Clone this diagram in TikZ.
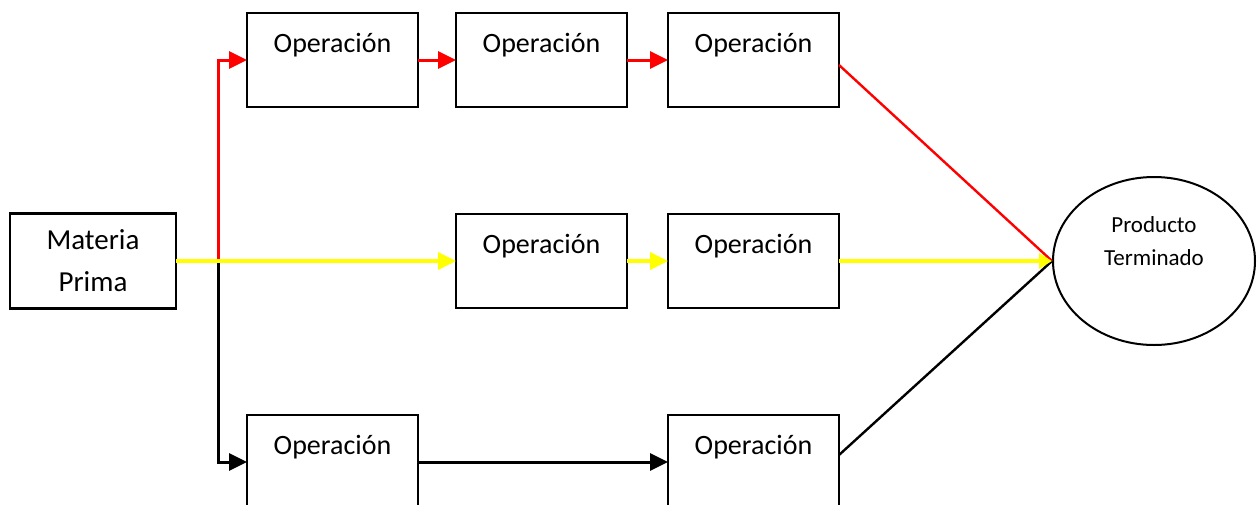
\documentclass[tikz,border=0pt]{standalone}
\usepackage{fontspec}
\setmainfont{Carlito}
\usepackage{xcolor}
\usepackage{tikz}
\usetikzlibrary{positioning, arrows.meta, shapes.geometric}

\definecolor{flowred}{RGB}{255,0,0}
\definecolor{flowyellow}{RGB}{255,255,0}

\begin{document}
\begin{tikzpicture}[x=1pt, y=-1pt,
    op/.style={draw, rectangle, line width=2.2pt, inner sep=0pt, outer sep=0pt, minimum width=171pt,
        text height=39pt, text depth=55pt, font=\fontsize{28}{34}\selectfont},
    redline/.style={draw=flowred, line width=3pt},
    yellowline/.style={draw=flowyellow, line width=3.6pt},
    blackline/.style={draw=black, line width=3pt},
    tip/.style={-{Triangle[length=18pt, width=17pt]}}]
    \useasboundingbox (0,0) rectangle (1259,504);

    \node[draw, rectangle, line width=2.2pt, outer sep=0pt, minimum width=166pt, minimum height=95pt,
        align=center, font=\fontsize{29}{42}\selectfont] (mat) at (93,261) {Materia\\Prima};

    % upper branch
    \node[op] (op1) at (332.5,60) {Operación};
    \node[op, right=38pt of op1] (op2) {Operación};
    \node[op, right=41pt of op2] (op3) {Operación};

    % middle branch
    \node[op, below=107pt of op2] (op4) {Operación};
    \node[op, below=107pt of op3] (op5) {Operación};

    % lower branch
    \node[op, below=107pt of op4.south -| op1] (op6) {Operación};
    \node[op, below=107pt of op5] (op7) {Operación};

    \node[draw, ellipse, line width=2pt, minimum width=202pt, minimum height=168pt] (prod) at (1154,261) {};
    \node[align=center, font=\fontsize{23}{33}\selectfont] (prodtext) at ([yshift=20pt]prod.center) {Producto\\Terminado};

    \coordinate (split) at ([xshift=42pt]mat.east);

    \draw[redline, tip] (mat.east) -- (split) |- (op1.west);
    \draw[redline, tip] (op1.east) -- (op2.west);
    \draw[redline, tip] (op2.east) -- (op3.west);
    \draw[flowred, line width=2.4pt] ([yshift=-5pt]op3.east) -- (prod.west);

    \draw[blackline, tip] (split) |- (op6.west);
    \draw[blackline, tip] (op6.east) -- (op7.west);
    \draw[black, line width=2.4pt] ([yshift=7pt]op7.east) -- (prod.west);

    \draw[yellowline, tip] (mat.east) -- (op4.west);
    \draw[yellowline, tip] (op4.east) -- (op5.west);
    \draw[yellowline, -{Triangle[length=13pt, width=15pt]}] (op5.east) -- (prod.west);
\end{tikzpicture}
\end{document}
